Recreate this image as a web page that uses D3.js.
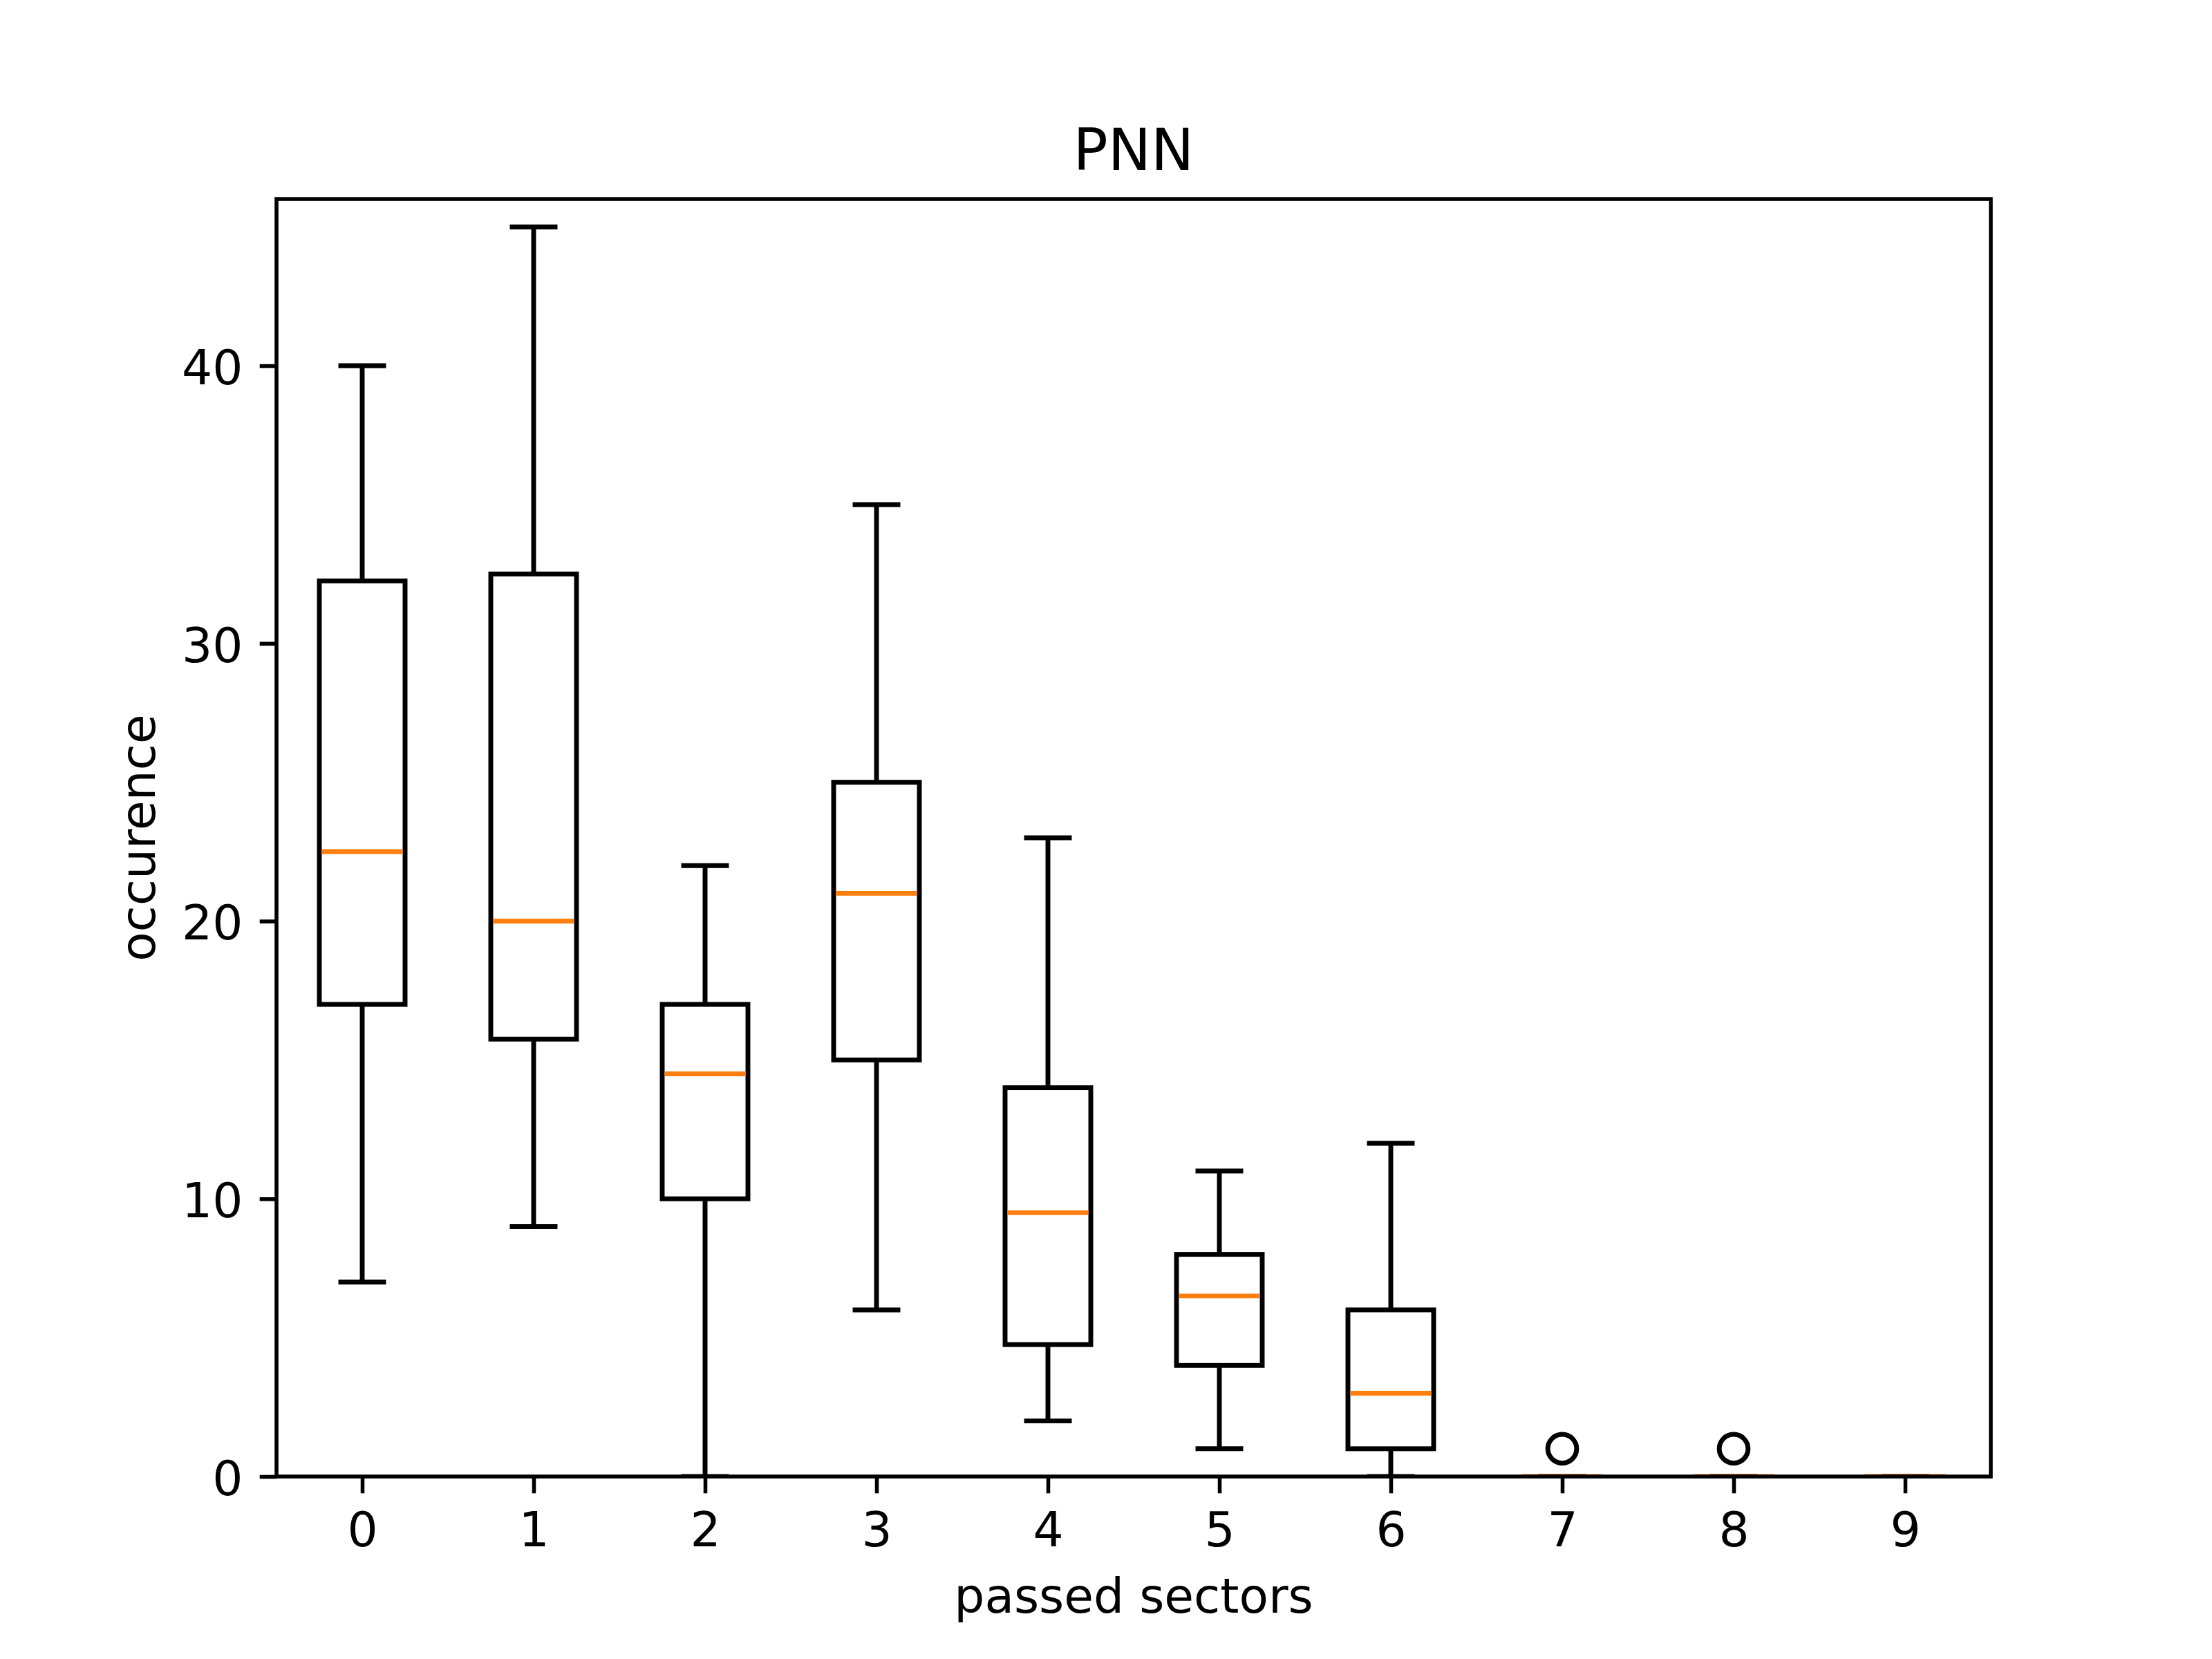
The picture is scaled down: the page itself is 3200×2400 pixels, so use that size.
<!DOCTYPE html>
<html>
<head>
<meta charset="utf-8">
<script src="https://cdn.jsdelivr.net/npm/d3@7"></script>
<style>
  body { margin: 0; background: #fff; }
  text { font-family: "DejaVu Sans", sans-serif; }
</style>
</head>
<body>
<script>
// box statistics per category
var categories = [0, 1, 2, 3, 4, 5, 6, 7, 8, 9];
var whiskerLow = [7, 9, 0, 6, 2, 1, 0, 0, 0, 0];
var q1 = [17, 15.75, 10, 15, 4.75, 4, 1, 0, 0, 0];
var median = [22.5, 20, 14.5, 21, 9.5, 6.5, 3, 0, 0, 0];
var q3 = [32.25, 32.5, 17, 25, 14, 8, 6, 0, 0, 0];
var whiskerHigh = [40, 45, 22, 35, 23, 11, 12, 0, 0, 0];
var fliers = [[], [], [], [], [], [], [], [1], [1], []];
var yTicks = [0, 10, 20, 30, 40];

const W = 3200, H = 2400;
const pt = 500 / 72;
const plotLeft = 400, plotRight = 2880, plotTop = 288, plotBottom = 2136;
const fontSize = 10 * pt;

var boxes = categories.map((c, i) => ({
    cat: c,
    lo: whiskerLow[i],
    q1: q1[i],
    med: median[i],
    q3: q3[i],
    hi: whiskerHigh[i],
    fliers: fliers[i]
}));

const svg = d3.select("body")
    .append("svg")
    .attr("width", W)
    .attr("height", H);

svg.append("rect").attr("width", W).attr("height", H).attr("fill", "#fff");

const x = d3.scaleLinear().domain([-0.5, 9.5]).range([plotLeft, plotRight]);
const y = d3.scaleLinear().domain([0, 46]).range([plotBottom, plotTop]);

const boxW = x(0.25) - x(0);   // half box width
const capW = x(0.125) - x(0);  // half cap width

// marks are clipped to the axes area like matplotlib does
svg.append("clipPath")
    .attr("id", "plotclip")
    .append("rect")
    .attr("x", plotLeft).attr("y", plotTop)
    .attr("width", plotRight - plotLeft).attr("height", plotBottom - plotTop);

const g = svg.append("g").attr("clip-path", "url(#plotclip)");

// whiskers
g.selectAll("line.wlo")
    .data(boxes)
    .enter()
    .append("line")
    .attr("x1", d => x(d.cat)).attr("x2", d => x(d.cat))
    .attr("y1", d => y(d.q1)).attr("y2", d => y(d.lo))
    .attr("stroke", "#000").attr("stroke-width", pt);

g.selectAll("line.whi")
    .data(boxes)
    .enter()
    .append("line")
    .attr("x1", d => x(d.cat)).attr("x2", d => x(d.cat))
    .attr("y1", d => y(d.q3)).attr("y2", d => y(d.hi))
    .attr("stroke", "#000").attr("stroke-width", pt);

// caps
g.selectAll("line.clo")
    .data(boxes)
    .enter()
    .append("line")
    .attr("x1", d => x(d.cat) - capW).attr("x2", d => x(d.cat) + capW)
    .attr("y1", d => y(d.lo)).attr("y2", d => y(d.lo))
    .attr("stroke", "#000").attr("stroke-width", pt)
    .attr("stroke-linecap", "square");

g.selectAll("line.chi")
    .data(boxes)
    .enter()
    .append("line")
    .attr("x1", d => x(d.cat) - capW).attr("x2", d => x(d.cat) + capW)
    .attr("y1", d => y(d.hi)).attr("y2", d => y(d.hi))
    .attr("stroke", "#000").attr("stroke-width", pt)
    .attr("stroke-linecap", "square");

// boxes
g.selectAll("rect.box")
    .data(boxes)
    .enter()
    .append("rect")
    .attr("x", d => x(d.cat) - boxW)
    .attr("y", d => y(d.q3))
    .attr("width", boxW * 2)
    .attr("height", d => y(d.q1) - y(d.q3))
    .attr("fill", "none")
    .attr("stroke", "#000")
    .attr("stroke-width", pt);

// medians
g.selectAll("line.med")
    .data(boxes)
    .enter()
    .append("line")
    .attr("x1", d => x(d.cat) - boxW + pt / 2).attr("x2", d => x(d.cat) + boxW - pt / 2)
    .attr("y1", d => y(d.med)).attr("y2", d => y(d.med))
    .attr("stroke", "#ff7f0e").attr("stroke-width", pt);

// fliers
var flierPts = [];
boxes.forEach(b => b.fliers.forEach(v => flierPts.push({cat: b.cat, v: v})));
g.selectAll("circle.flier")
    .data(flierPts)
    .enter()
    .append("circle")
    .attr("cx", d => x(d.cat))
    .attr("cy", d => y(d.v))
    .attr("r", 3 * pt)
    .attr("fill", "none")
    .attr("stroke", "#000")
    .attr("stroke-width", pt);

// axes
const xAxis = d3.axisBottom(x)
    .tickValues(categories)
    .tickSize(3.5 * pt)
    .tickPadding(3.5 * pt)
    .tickFormat(d3.format("d"));

const yAxis = d3.axisLeft(y)
    .tickValues(yTicks)
    .tickSize(3.5 * pt)
    .tickPadding(3.5 * pt)
    .tickFormat(d3.format("d"));

const gx = svg.append("g")
    .attr("transform", "translate(0," + plotBottom + ")")
    .call(xAxis);
const gy = svg.append("g")
    .attr("transform", "translate(" + plotLeft + ",0)")
    .call(yAxis);

[gx, gy].forEach(a => {
    a.select(".domain").remove();
    a.selectAll(".tick line").attr("stroke", "#000").attr("stroke-width", 0.8 * pt);
    a.selectAll(".tick text")
        .attr("fill", "#000")
        .style("font-size", fontSize + "px")
        .style("font-family", "'DejaVu Sans', sans-serif");
});
gx.selectAll(".tick text").attr("dy", "0.76em");
gy.selectAll(".tick text").attr("dy", "0.38em");

// frame
svg.append("rect")
    .attr("x", plotLeft).attr("y", plotTop)
    .attr("width", plotRight - plotLeft).attr("height", plotBottom - plotTop)
    .attr("fill", "none")
    .attr("stroke", "#000")
    .attr("stroke-width", 0.8 * pt)
    .attr("stroke-linejoin", "miter");

// labels
svg.append("text")
    .attr("x", (plotLeft + plotRight) / 2)
    .attr("y", plotTop - 6 * pt)
    .attr("text-anchor", "middle")
    .style("font-size", 12 * pt + "px")
    .text("PNN");

svg.append("text")
    .attr("x", (plotLeft + plotRight) / 2)
    .attr("y", 2333)
    .attr("text-anchor", "middle")
    .style("font-size", fontSize + "px")
    .text("passed sectors");

svg.append("text")
    .attr("transform", "translate(224," + (plotTop + plotBottom) / 2 + ") rotate(-90)")
    .attr("text-anchor", "middle")
    .style("font-size", fontSize + "px")
    .text("occurence");
</script>
</body>
</html>
